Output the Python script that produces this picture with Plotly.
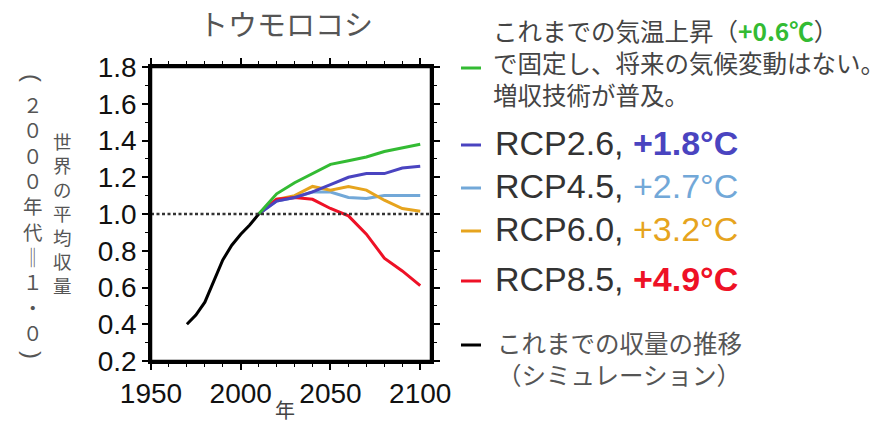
import plotly.graph_objects as go

# ---------------- data ----------------
hist_years = [1970, 1975, 1980, 1985, 1990, 1995, 2000, 2005, 2010]
hist_yield = [0.40, 0.45, 0.52, 0.63, 0.75, 0.83, 0.89, 0.94, 1.00]

future_years = [2010, 2020, 2030, 2040, 2050, 2060, 2070, 2080, 2090, 2100]
no_change = [1.00, 1.11, 1.17, 1.22, 1.27, 1.29, 1.31, 1.34, 1.36, 1.38]
rcp26 = [1.00, 1.07, 1.09, 1.12, 1.16, 1.20, 1.22, 1.22, 1.25, 1.26]
rcp45 = [1.00, 1.07, 1.09, 1.12, 1.12, 1.09, 1.085, 1.10, 1.10, 1.10]
rcp60 = [1.00, 1.08, 1.10, 1.15, 1.13, 1.15, 1.13, 1.075, 1.03, 1.015]
rcp85 = [1.00, 1.08, 1.09, 1.08, 1.03, 0.99, 0.89, 0.76, 0.69, 0.61]

baseline = 1.0
x_range = [1950, 2106]
y_range = [0.2, 1.8]
x_ticks = [1950, 2000, 2050, 2100]
y_ticks = [0.2, 0.4, 0.6, 0.8, 1.0, 1.2, 1.4, 1.6, 1.8]

title_text = "トウモロコシ"
x_title = "年"
y_title_inner = ["世", "界", "の", "平", "均", "収", "量"]
y_title_outer = ["２", "０", "０", "０", "年", "代", "‖", "１", "・", "０"]
y_title_parens = ["(", ")"]

# colors
C_GREEN = "#33bb33"
C_BLUE = "#4a44c0"
C_LBLUE = "#72a8d8"
C_ORANGE = "#e6a41e"
C_RED = "#ee1126"
C_BLACK = "#000000"

# ---------------- layout geometry (reference pixels) ----------------
W, H = 885, 428
L, R, T, B = 151, 431, 67, 361   # plot area

def px(xp):
    return (xp - L) / (R - L)

def py(yp):
    return (B - yp) / (B - T)

JP = "Noto Sans CJK JP"
NUM = "Liberation Sans, Arial, sans-serif"
GRAY = "#555555"

fig = go.Figure()

series = [
    (rcp45, C_LBLUE),
    (rcp60, C_ORANGE),
    (rcp85, C_RED),
    (rcp26, C_BLUE),
    (no_change, C_GREEN),
]
for vals, col in series:
    fig.add_trace(go.Scatter(x=future_years, y=vals, mode="lines",
                             line=dict(color=col, width=3), showlegend=False,
                             hoverinfo="skip"))
fig.add_trace(go.Scatter(x=hist_years, y=hist_yield, mode="lines",
                         line=dict(color=C_BLACK, width=3), showlegend=False,
                         hoverinfo="skip"))
# dotted baseline (drawn on the mirrored top/right axes so they are created)
fig.add_trace(go.Scatter(x=x_range, y=[baseline, baseline], mode="lines",
                         xaxis="x2", yaxis="y2",
                         line=dict(color="#333333", width=2.5, dash="3px,2.5px"),
                         showlegend=False, hoverinfo="skip"))

tick_common = dict(
    showgrid=False, zeroline=False, showline=True, linecolor="black",
    linewidth=2.5, ticks="outside", ticklen=6,
    tickwidth=1.5, tickcolor="black",
    tickfont=dict(family=NUM, size=28, color="#111111"),
)
xminor = dict(dtick=10, ticklen=3, tickwidth=1.2, tickcolor="black", ticks="outside")
yminor = dict(dtick=0.1, ticklen=3, tickwidth=1.2, tickcolor="black", ticks="outside")

fig.update_layout(
    xaxis=dict(range=x_range, tickvals=x_ticks, minor=xminor, **tick_common),
    yaxis=dict(range=y_range, tickvals=y_ticks,
               ticktext=[f"{v:.1f}" for v in y_ticks], minor=yminor, **tick_common),
    xaxis2=dict(range=x_range, tickvals=x_ticks, minor=xminor, overlaying="x",
                side="top", anchor="y", showticklabels=False, **tick_common),
    yaxis2=dict(range=y_range, tickvals=y_ticks, minor=yminor, overlaying="y",
                side="right", anchor="x", showticklabels=False, **tick_common),
)

annotations = []

def note(text, xp, yp, size, color=GRAY, family=JP, xanchor="center", align="center",
         textangle=0):
    annotations.append(dict(text=text, x=px(xp), y=py(yp), xref="paper", yref="paper",
                            showarrow=False, font=dict(family=family, size=size, color=color),
                            xanchor=xanchor, yanchor="middle", align=align,
                            textangle=textangle))

# title
note(title_text, 286, 23, 29, color="#555555")
# x title
note(x_title, 285, 409, 20, color="#444444")

# y titles (vertical text: one character per line)
note("<br>".join(y_title_inner), 62, 212.5, 18.5)
note("<br>".join(y_title_outer), 33, 218, 19.5)
# vertical-form parentheses: rotated half-width brackets
note(y_title_parens[0], 33, 78, 24, family=NUM, textangle=90)
note(y_title_parens[1], 33, 355, 24, family=NUM, textangle=90)

# legend block: green
note(("これまでの気温上昇（<span style='color:%s'><b>+0.6℃</b></span>）<br>"
      "で固定し、将来の気候変動はない。<br>増収技術が普及。") % C_GREEN,
     491, 63, 24.5, color="#444444", xanchor="left", align="left")

rcp_rows = [
    ("RCP2.6, ", "+1.8°C", C_BLUE, True, 143),
    ("RCP4.5, ", "+2.7°C", C_LBLUE, False, 186),
    ("RCP6.0, ", "+3.2°C", C_ORANGE, False, 229),
    ("RCP8.5, ", "+4.9°C", C_RED, True, 279),
]
for name, temp, col, bold, yp in rcp_rows:
    t = f"<b>{temp}</b>" if bold else temp
    note(f"{name}<span style='color:{col}'>{t}</span>", 493, yp, 34,
         color="#333333", family=NUM, xanchor="left", align="left")

note("これまでの収量の推移<br>（シミュレーション）", 495, 358, 24.5,
     color="#555555", xanchor="left", align="left")

shapes = []
swatches = [(C_GREEN, 68), (C_BLUE, 145), (C_LBLUE, 188), (C_ORANGE, 231), (C_RED, 281), (C_BLACK, 345)]
for col, yp in swatches:
    shapes.append(dict(type="line", xref="paper", yref="paper",
                       x0=px(461), x1=px(481), y0=py(yp), y1=py(yp),
                       line=dict(color=col, width=3)))
# plot frame
shapes.append(dict(type="rect", xref="paper", yref="paper", x0=0, x1=1, y0=0, y1=1,
                   line=dict(color="black", width=2.5), layer="above"))

fig.update_layout(
    width=W, height=H,
    margin=dict(l=L, r=W - R, t=T, b=H - B),
    paper_bgcolor="white", plot_bgcolor="white",
    annotations=annotations, shapes=shapes, showlegend=False,
)

# remove the browser's default 8px body margin so the figure fills the window
fig.write_html("out.html", config={"displayModeBar": False},
               post_script="document.body.style.margin='0';document.body.style.overflow='hidden';")
